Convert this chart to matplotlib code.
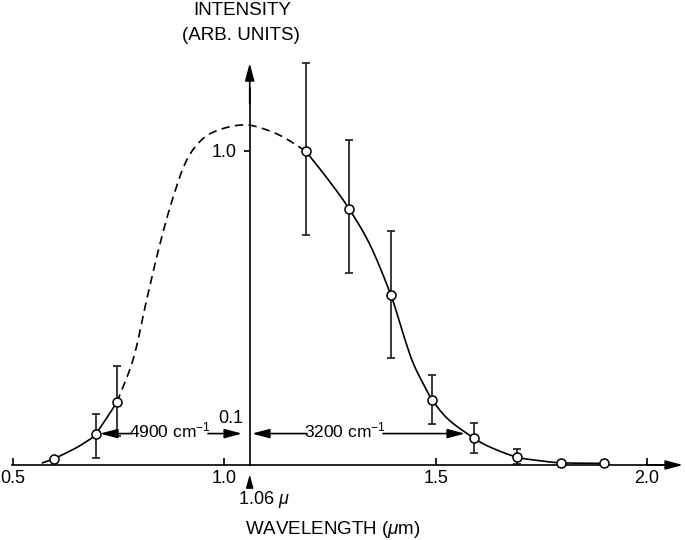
import numpy as np
import matplotlib
matplotlib.use("Agg")
import matplotlib.pyplot as plt

plt.rcParams['font.family'] = ['Liberation Sans', 'DejaVu Sans']
plt.rcParams['mathtext.fontset'] = 'custom'
plt.rcParams['mathtext.rm'] = 'Liberation Sans'
plt.rcParams['mathtext.it'] = 'Liberation Sans:italic'
plt.rcParams['mathtext.bf'] = 'Liberation Sans:bold'

# ---- data ----
wavelength = [0.597, 0.696, 0.746, 1.192, 1.295, 1.394, 1.492, 1.591, 1.692, 1.796, 1.898]
intensity = [0.020, 0.100, 0.200, 1.000, 0.816, 0.541, 0.207, 0.085, 0.025, 0.007, 0.005]
bar_low = [np.nan, 0.022, 0.092, 0.732, 0.611, 0.341, 0.131, 0.038, 0.004, np.nan, np.nan]
bar_high = [np.nan, 0.162, 0.315, 1.280, 1.035, 0.745, 0.287, 0.134, 0.051, np.nan, np.nan]

# smooth curve (solid left part, dashed middle part, solid right part)
left_x = [0.570, 0.597, 0.640, 0.667, 0.696, 0.746]
left_y = [0.007, 0.020, 0.048, 0.069, 0.100, 0.200]
dash_x = [0.746, 0.785, 0.816, 0.848, 0.879, 0.911, 0.950, 0.998, 1.053, 1.105, 1.145, 1.192]
dash_y = [0.200, 0.340, 0.525, 0.706, 0.854, 0.971, 1.040, 1.072, 1.083, 1.065, 1.040, 1.000]
right_x = [1.192, 1.245, 1.295, 1.345, 1.394, 1.420, 1.445, 1.470, 1.492, 1.530, 1.591, 1.632, 1.692, 1.745, 1.796, 1.898]
right_y = [1.000, 0.910, 0.816, 0.700, 0.541, 0.430, 0.330, 0.260, 0.207, 0.145, 0.085, 0.055, 0.025, 0.014, 0.007, 0.005]

x_ticks = [0.5, 1.0, 1.5, 2.0]
x_tick_labels = ["0.5", "1.0", "1.5", "2.0"]
y_ticks = [1.0]
y_tick_labels = ["1.0"]
laser_line = 1.06
half_level = 0.1
width_left_label = "4900 cm$^{-1}$"
width_right_label = "3200 cm$^{-1}$"


def smooth(xs, ys, n=30, sx=1.35):
    P = np.column_stack([np.asarray(xs, float) * sx, np.asarray(ys, float)])
    P = np.vstack([2 * P[0] - P[1], P, 2 * P[-1] - P[-2]])
    t = np.linspace(0, 1, n, endpoint=False)[:, None]
    out = []
    for i in range(1, len(P) - 2):
        p0, p1, p2, p3 = P[i - 1], P[i], P[i + 1], P[i + 2]
        seg = 0.5 * ((2 * p1) + (-p0 + p2) * t + (2 * p0 - 5 * p1 + 4 * p2 - p3) * t ** 2
                     + (-p0 + 3 * p1 - 3 * p2 + p3) * t ** 3)
        out.append(seg)
    out.append(P[-2][None, :])
    A = np.vstack(out)
    return A[:, 0] / sx, A[:, 1]


fig = plt.figure(figsize=(6.85, 5.40), dpi=100)
ax = fig.add_axes([0, 0, 1, 1])
ax.set_xlim(0.46925, 2.08977)
ax.set_ylim(-0.2389, 1.4809)
ax.patch.set_alpha(0)

LW = 1.2
# axes as spines
for s in ['top', 'right']:
    ax.spines[s].set_visible(False)
ax.spines['bottom'].set_position(('data', 0))
ax.spines['left'].set_position(('data', laser_line))
ax.spines['bottom'].set_bounds(0.497, 2.05)
ax.spines['left'].set_bounds(0, 1.2)
ax.spines['bottom'].set_linewidth(LW)
ax.spines['left'].set_linewidth(LW)
ax.set_xticks(x_ticks)
ax.set_xticklabels(x_tick_labels)
ax.set_yticks(y_ticks)
ax.set_yticklabels(y_tick_labels)
ax.tick_params(axis='x', direction='in', length=5, width=LW, pad=3.5, labelsize=13)
ax.tick_params(axis='y', direction='out', length=4.5, width=LW, pad=5, labelsize=13)

arrow_style = dict(arrowstyle='-|>,head_length=1.05,head_width=0.28', color='black',
                   lw=LW, shrinkA=0, shrinkB=0, mutation_scale=10)
# axis arrowheads
ax.annotate('', xy=(2.085, 0), xytext=(2.0, 0), arrowprops=arrow_style)
ax.annotate('', xy=(laser_line, 1.280), xytext=(laser_line, 1.15), arrowprops=arrow_style)

# curves
lx, ly = smooth(left_x, left_y)
ax.plot(lx, ly, color='black', lw=LW, zorder=3)
dx, dy = smooth(dash_x, dash_y)
ax.plot(dx, dy, color='black', lw=LW, dashes=(5, 3.2), zorder=3)
rx, ry = smooth(right_x, right_y)
ax.plot(rx, ry, color='black', lw=LW, zorder=3)

# error bars
wl = np.array(wavelength)
it = np.array(intensity)
lo = np.array(bar_low)
hi = np.array(bar_high)
m = ~np.isnan(lo)
ax.errorbar(wl[m], it[m], yerr=[it[m] - lo[m], hi[m] - it[m]], fmt='none',
            ecolor='#222222', elinewidth=1.25, capsize=3.0, capthick=1.25, zorder=2)

# data points
ax.plot(wl, it, 'o', ms=6.5, mfc='white', mec='black', mew=1.1, zorder=5)

# width arrows
ax.annotate('', xy=(0.7058, half_level), xytext=(0.7815, half_level), arrowprops=arrow_style)
ax.annotate('', xy=(1.0418, half_level), xytext=(0.9613, half_level), arrowprops=arrow_style)
ax.annotate('', xy=(1.0654, half_level), xytext=(1.1955, half_level), arrowprops=arrow_style)
ax.annotate('', xy=(1.5693, half_level), xytext=(1.3753, half_level), arrowprops=arrow_style)
ax.text(0.8726, 0.087, width_left_label, ha='center', va='baseline', fontsize=12.5)
ax.text(1.2854, 0.087, width_right_label, ha='center', va='baseline', fontsize=12.5)
ax.text(1.044, 0.148, "0.1", ha='right', va='center', fontsize=13)

# 1.06 micron marker
ax.annotate('', xy=(laser_line, -0.030), xytext=(laser_line, -0.072),
            arrowprops=dict(arrowstyle='-|>,head_length=0.8,head_width=0.22', color='black',
                            lw=1.0, shrinkA=0, shrinkB=0, mutation_scale=10))
ax.text(1.0323, -0.111, r"1.06 $\mu$", ha='left', va='center', fontsize=13)

# axis titles
ax.text(1.0418, 1.446, "INTENSITY", ha='center', va='center', fontsize=13.5)
ax.text(1.0394, 1.369, "(ARB. UNITS)", ha='center', va='center', fontsize=13.5)
ax.text(1.0489, -0.204, r"WAVELENGTH ($\mu$m)", ha='left', va='center', fontsize=13.5)

fig.savefig("out.png", dpi=100, facecolor='white')
